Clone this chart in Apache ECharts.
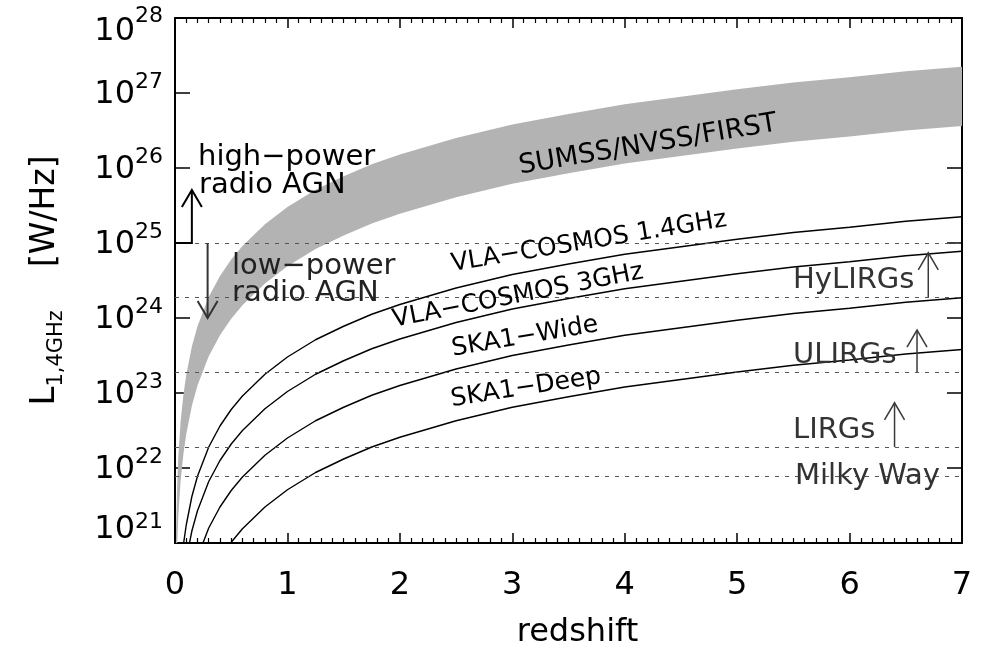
<!DOCTYPE html>
<html>
<head>
<meta charset="utf-8">
<script src="https://cdn.jsdelivr.net/npm/echarts@6/dist/echarts.min.js"></script>
<style>
  html, body { margin: 0; padding: 0; background: #fff; }
  #chart { width: 982px; height: 649px; }
</style>
</head>
<body>
<div id="chart"></div>
<script>
// Redshift samples shared by all detection-limit curves
const redshift = [0.002, 0.005, 0.01, 0.02, 0.03, 0.05, 0.075, 0.1, 0.15, 0.2, 0.3, 0.4, 0.5, 0.6, 0.8, 1.0, 1.25, 1.5, 1.75, 2, 2.5, 3, 3.5, 4, 4.5, 5, 5.5, 6, 6.5, 7];

// log10 L_1.4GHz [W/Hz] limits (null where the curve lies below the plotted range)
const sumssUpperLog = [19.80, 20.60, 21.20, 21.80, 22.16, 22.62, 22.98, 23.24, 23.62, 23.89, 24.28, 24.56, 24.78, 24.96, 25.25, 25.48, 25.71, 25.89, 26.05, 26.18, 26.40, 26.58, 26.72, 26.85, 26.95, 27.05, 27.14, 27.21, 27.29, 27.35];
const sumssLowerLog = [19.01, 19.81, 20.41, 21.01, 21.37, 21.83, 22.19, 22.45, 22.83, 23.10, 23.49, 23.77, 23.99, 24.17, 24.46, 24.69, 24.92, 25.10, 25.26, 25.39, 25.61, 25.79, 25.93, 26.06, 26.16, 26.26, 26.35, 26.42, 26.50, 26.56];
const vlaCosmos14Log = [null, null, null, null, null, 20.62, 20.98, 21.24, 21.62, 21.89, 22.28, 22.56, 22.78, 22.96, 23.25, 23.48, 23.71, 23.89, 24.05, 24.18, 24.40, 24.58, 24.72, 24.85, 24.95, 25.05, 25.14, 25.21, 25.29, 25.35];
const vlaCosmos3Log = [null, null, null, null, null, null, 20.52, 20.78, 21.16, 21.43, 21.82, 22.10, 22.32, 22.50, 22.79, 23.02, 23.25, 23.43, 23.59, 23.72, 23.94, 24.12, 24.26, 24.39, 24.49, 24.59, 24.68, 24.75, 24.83, 24.89];
const ska1WideLog = [null, null, null, null, null, null, null, null, 20.54, 20.81, 21.20, 21.48, 21.70, 21.88, 22.17, 22.40, 22.63, 22.81, 22.97, 23.10, 23.32, 23.50, 23.64, 23.77, 23.87, 23.97, 24.06, 24.13, 24.21, 24.27];
const ska1DeepLog = [null, null, null, null, null, null, null, null, null, null, 20.51, 20.79, 21.01, 21.19, 21.48, 21.71, 21.94, 22.12, 22.28, 22.41, 22.63, 22.81, 22.95, 23.08, 23.18, 23.28, 23.37, 23.44, 23.52, 23.58];

// Reference luminosities (dashed lines): AGN split, HyLIRG, ULIRG, LIRG, Milky Way
const thresholdLum = [1e25, 1.9e24, 1.9e23, 1.9e22, 7.8e21];

// Arrows: redshift position, start and end luminosity, optional horizontal tail start
const arrowZ = [0.15, 0.29, 6.70, 6.60, 6.40];
const arrowFrom = [1e25, 1e25, 1.9e24, 1.9e23, 1.9e22];
const arrowTo = [5.1e25, 1e24, 7.4e24, 6.9e23, 7.4e22];
const arrowTailZ = [0, null, null, null, null];

// Axis ticks
const xTicks = [0, 1, 2, 3, 4, 5, 6, 7];
const yExponents = [21, 22, 23, 24, 25, 26, 27, 28];

const FONT = '"DejaVu Sans", "Liberation Sans", sans-serif';

function toPairs(logs) {
  return redshift.map((z, i) => [z, logs[i] == null ? '-' : Math.pow(10, logs[i])]);
}

const bandRows = redshift.map((z, i) => [z, Math.pow(10, sumssUpperLog[i]), Math.pow(10, sumssLowerLog[i])]);
const arrowRows = arrowZ.map((z, i) => [z, arrowFrom[i], arrowTo[i]]);
const arrowLook = [
  { color: '#000', width: 2 },
  { color: '#333', width: 2 },
  { color: '#3a3a3a', width: 1.5 },
  { color: '#3a3a3a', width: 1.5 },
  { color: '#3a3a3a', width: 1.5 }
];

function renderBand(params, api) {
  if (params.dataIndex !== 0) return null;
  const n = params.dataInsideLength;
  const top = [], bottom = [];
  for (let i = 0; i < n; i++) {
    top.push(api.coord([api.value(0, i), api.value(1, i)]));
    bottom.push(api.coord([api.value(0, i), api.value(2, i)]));
  }
  return {
    type: 'polygon',
    shape: { points: top.concat(bottom.reverse()) },
    style: { fill: '#b3b3b3', stroke: null }
  };
}

function renderArrow(params, api) {
  const i = params.dataIndex;
  const base = api.coord([api.value(0), api.value(1)]);
  const tip = api.coord([api.value(0), api.value(2)]);
  const dir = tip[1] < base[1] ? 1 : -1;
  const hw = 10, hl = 17;
  const pts = [];
  if (arrowTailZ[i] != null) pts.push(api.coord([arrowTailZ[i], api.value(1)]));
  pts.push(base, tip);
  const look = arrowLook[i];
  const st = { stroke: look.color, lineWidth: look.width, fill: null };
  return {
    type: 'group',
    children: [
      { type: 'polyline', shape: { points: pts }, style: st },
      { type: 'polyline', shape: { points: [[tip[0] - hw, tip[1] + dir * hl], tip, [tip[0] + hw, tip[1] + dir * hl]] }, style: st }
    ]
  };
}

const axisLineStyle = { color: '#000', width: 2 };

function xAxisDef(pos, showLabels) {
  return {
    type: 'value', position: pos, min: xTicks[0], max: xTicks[xTicks.length - 1], interval: 1,
    axisLine: { show: true, onZero: false, lineStyle: axisLineStyle },
    axisTick: { show: true, inside: true, length: 10, lineStyle: { color: '#000', width: 1.5 } },
    minorTick: { show: true, splitNumber: 10, length: 5, lineStyle: { color: '#000', width: 1.2 } },
    axisLabel: { show: showLabels, margin: 27, fontFamily: FONT, fontSize: 32, color: '#000' },
    splitLine: { show: false }, minorSplitLine: { show: false },
    name: showLabels ? 'redshift' : '',
    nameLocation: 'middle', nameGap: 74,
    nameTextStyle: { fontFamily: FONT, fontSize: 32, color: '#000', padding: [0, 0, 0, 18] }
  };
}

// Base "10" and raised exponent; top/bottom padding moves each part down/up by half its amount
const tickRich = {
  b: { fontFamily: FONT, fontSize: 32, color: '#000', padding: [4, 0, 0, 0] },
  s: { fontFamily: FONT, fontSize: 22, color: '#000', padding: [0, 0, 22, 0] },
  bt: { fontFamily: FONT, fontSize: 32, color: '#000', padding: [27, 0, 0, 0] },
  st: { fontFamily: FONT, fontSize: 22, color: '#000', padding: [0, 0, 3, 0] },
  bb: { fontFamily: FONT, fontSize: 32, color: '#000', padding: [0, 0, 27, 0] },
  sb: { fontFamily: FONT, fontSize: 22, color: '#000', padding: [0, 0, 41, 0] }
};

function yAxisDef(pos, showLabels) {
  return {
    type: 'log', logBase: 10, position: pos,
    min: Math.pow(10, yExponents[0]), max: Math.pow(10, yExponents[yExponents.length - 1]),
    axisLine: { show: true, onZero: false, lineStyle: axisLineStyle },
    axisTick: { show: true, inside: true, length: 15, lineStyle: { color: '#000', width: 1.5 } },
    minorTick: { show: false },
    splitLine: { show: false },
    axisLabel: {
      show: showLabels, margin: 12, color: '#000',
      formatter: function (v) {
        const e = Math.round(Math.log10(v));
        if (e === yExponents[yExponents.length - 1]) return '{bt|10}{st|' + e + '}';
        if (e === yExponents[0]) return '{bb|10}{sb|' + e + '}';
        return '{b|10}{s|' + e + '}';
      },
      rich: tickRich
    },
    name: showLabels ? '{l|L}{sub|1,4GHz}{u|[W/Hz]}' : '',
    nameLocation: 'middle', nameRotate: 90, nameGap: 108,
    nameTextStyle: {
      rich: {
        l: { fontFamily: FONT, fontSize: 34, color: '#000', lineHeight: 44, verticalAlign: 'middle' },
        sub: { fontFamily: FONT, fontSize: 21, color: '#000', lineHeight: 44, verticalAlign: 'bottom' },
        u: { fontFamily: FONT, fontSize: 33, color: '#000', lineHeight: 44, verticalAlign: 'middle', padding: [0, 0, 0, 43] }
      }
    }
  };
}

function curve(name, logs) {
  return {
    name: name, type: 'line', data: toPairs(logs), symbol: 'none',
    smooth: false, connectNulls: false, clip: true, z: 4,
    lineStyle: { color: '#000', width: 1.4 }
  };
}

function label(text, x, y, size, opts) {
  opts = opts || {};
  return {
    type: 'text', x: x, y: y, z: 100, rotation: (opts.rot || 0) * Math.PI / 180,
    style: {
      text: text, font: size + 'px ' + FONT, fill: opts.color || '#000',
      align: opts.align || 'left', verticalAlign: 'middle',
      textAlign: opts.align || 'left', textVerticalAlign: 'middle'
    }
  };
}

const chart = echarts.init(document.getElementById('chart'));
chart.setOption({
  animation: false,
  backgroundColor: '#fff',
  grid: { left: 175, right: 20, top: 18, bottom: 106, containLabel: false, outerBoundsMode: 'none' },
  xAxis: [xAxisDef('bottom', true), xAxisDef('top', false)],
  yAxis: [yAxisDef('left', true), yAxisDef('right', false)],
  series: [
    {
      name: 'SUMSS/NVSS/FIRST', type: 'custom', data: bandRows, renderItem: renderBand,
      clip: true, z: 1, silent: true
    },
    {
      name: 'reference levels', type: 'line', data: [], z: 2, silent: true,
      markLine: {
        silent: true, symbol: 'none', label: { show: false },
        lineStyle: { color: '#555', width: 1, type: [4, 6] },
        data: thresholdLum.map(v => ({ yAxis: v }))
      }
    },
    curve('VLA-COSMOS 1.4GHz', vlaCosmos14Log),
    curve('VLA-COSMOS 3GHz', vlaCosmos3Log),
    curve('SKA1-Wide', ska1WideLog),
    curve('SKA1-Deep', ska1DeepLog),
    {
      name: 'arrows', type: 'custom', data: arrowRows, renderItem: renderArrow,
      clip: false, z: 6, silent: true
    }
  ],
  graphic: [
    label('high\u2212power', 198, 157, 29),
    label('radio AGN', 199, 185, 29),
    label('low\u2212power', 232, 266, 29, { color: '#222' }),
    label('radio AGN', 232, 293, 29, { color: '#222' }),
    label('SUMSS/NVSS/FIRST', 648, 145, 27, { align: 'center', rot: 9.5 }),
    label('VLA\u2212COSMOS 1.4GHz', 589, 242, 25, { align: 'center', rot: 9.3 }),
    label('VLA\u2212COSMOS 3GHz', 518, 296, 25, { align: 'center', rot: 11 }),
    label('SKA1\u2212Wide', 525, 337, 25, { align: 'center', rot: 9.6 }),
    label('SKA1\u2212Deep', 526, 388, 25, { align: 'center', rot: 8.9 }),
    label('HyLIRGs', 793, 280, 29, { color: '#333' }),
    label('ULIRGs', 793, 355, 29, { color: '#333' }),
    label('LIRGs', 793, 430, 29, { color: '#333' }),
    label('Milky Way', 795, 476, 29, { color: '#333' })
  ]
});
</script>
</body>
</html>
